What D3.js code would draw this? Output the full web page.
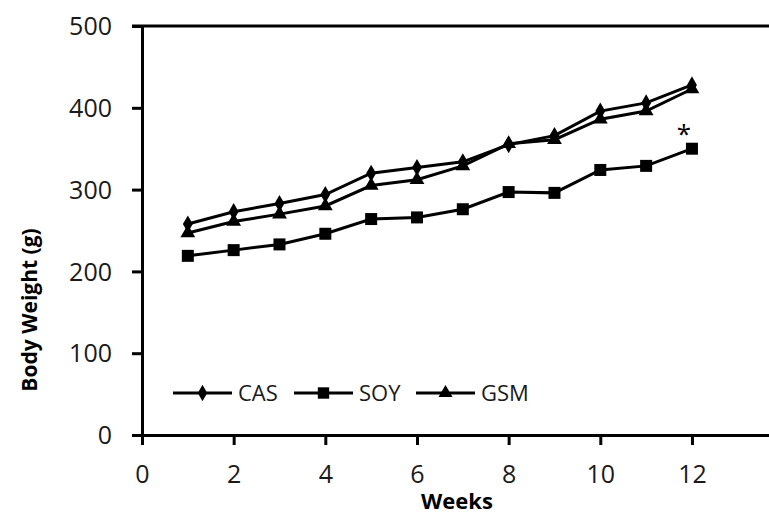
<!DOCTYPE html>
<html>
<head>
<meta charset="utf-8">
<script src="https://cdn.jsdelivr.net/npm/d3@7"></script>
<style>
  body { margin: 0; background: #fff; }
  svg { display: block; font-family: "Open Sans", sans-serif; }
</style>
</head>
<body>
<div id="chart"></div>
<script>
// data
const weeks = [1, 2, 3, 4, 5, 6, 7, 8, 9, 10, 11, 12];
const cas = [258, 273, 283, 294, 320, 327, 334, 355, 366, 396, 406, 428];
const soy = [219, 226, 233, 246, 264, 266, 276, 297, 296, 324, 329, 350];
const gsm = [247, 261, 270, 280, 305, 312, 329, 356, 361, 386, 396, 423];
const seriesNames = ["CAS", "SOY", "GSM"];
const xTicks = [0, 2, 4, 6, 8, 10, 12];
const yTicks = [0, 100, 200, 300, 400, 500];

const W = 769, H = 515;
const margin = { top: 26, left: 142, bottom: 80 };
const plotH = H - margin.top - margin.bottom;

const svg = d3.select("#chart").append("svg")
    .attr("width", W)
    .attr("height", H);

const x = d3.scaleLinear().domain([0, 14]).range([margin.left, margin.left + 14 * 45.83]);
const y = d3.scaleLinear().domain([0, 500]).range([margin.top + plotH, margin.top]);

// top frame line
svg.append("line")
    .attr("x1", margin.left - 10).attr("x2", W)
    .attr("y1", y(500)).attr("y2", y(500))
    .attr("stroke", "#000").attr("stroke-width", 3);

// axes
const xAxis = svg.append("g")
    .attr("transform", `translate(0,${y(0)})`)
    .call(d3.axisBottom(x).tickValues(xTicks).tickSize(10).tickSizeOuter(0).tickPadding(20));

const yAxis = svg.append("g")
    .attr("transform", `translate(${x(0)},0)`)
    .call(d3.axisLeft(y).tickValues(yTicks).tickSize(10).tickSizeOuter(0).tickPadding(20));

[xAxis, yAxis].forEach(g => {
    g.select(".domain").attr("stroke-width", 3);
    g.selectAll(".tick line").attr("stroke-width", 3);
    g.selectAll(".tick text")
        .attr("font-size", 25)
        .attr("font-family", "Open Sans")
        .attr("fill", "#1a1a1a");
});
yAxis.selectAll(".tick text").attr("dy", "0.35em");

// axis titles
svg.append("text")
    .attr("transform", `translate(37,${y(0) - 125}) rotate(-90)`)
    .attr("text-anchor", "middle")
    .attr("font-weight", "bold")
    .attr("font-size", 21)
    .text("Body Weight (g)");

svg.append("text")
    .attr("x", 457)
    .attr("y", 509)
    .attr("text-anchor", "middle")
    .attr("font-weight", "bold")
    .attr("font-size", 22)
    .text("Weeks");

// lines
const line = d3.line()
    .x((d, i) => x(weeks[i]))
    .y(d => y(d));

const symbols = [d3.symbolDiamond, d3.symbolSquare, d3.symbolTriangle];
const symSize = [85, 144, 95];
const allSeries = [cas, soy, gsm];

allSeries.forEach((vals, k) => {
    svg.append("path")
        .datum(vals)
        .attr("fill", "none")
        .attr("stroke", "#000")
        .attr("stroke-width", 3)
        .attr("d", line);

    svg.selectAll(null)
        .data(vals)
        .join("path")
        .attr("transform", (d, i) => `translate(${x(weeks[i])},${y(d)})`)
        .attr("d", d3.symbol().type(symbols[k]).size(symSize[k]))
        .attr("fill", "#000");
});

// significance marker
svg.append("text")
    .attr("x", x(12) - 8)
    .attr("y", y(soy[11]) - 6)
    .attr("text-anchor", "middle")
    .attr("font-size", 26)
    .text("*");

// legend
const legendX = [173, 294, 416];
const legendY = 393;
seriesNames.forEach((name, k) => {
    const g = svg.append("g").attr("transform", `translate(${legendX[k]},${legendY})`);
    g.append("line")
        .attr("x1", 0).attr("x2", 59)
        .attr("stroke", "#000").attr("stroke-width", 3);
    g.append("path")
        .attr("transform", "translate(29.5,0)")
        .attr("d", d3.symbol().type(symbols[k]).size(symSize[k] * 0.9))
        .attr("fill", "#000");
    g.append("text")
        .attr("x", 65)
        .attr("dy", "0.36em")
        .attr("font-size", 22)
        .attr("fill", "#1a1a1a")
        .text(name);
});
</script>
</body>
</html>
